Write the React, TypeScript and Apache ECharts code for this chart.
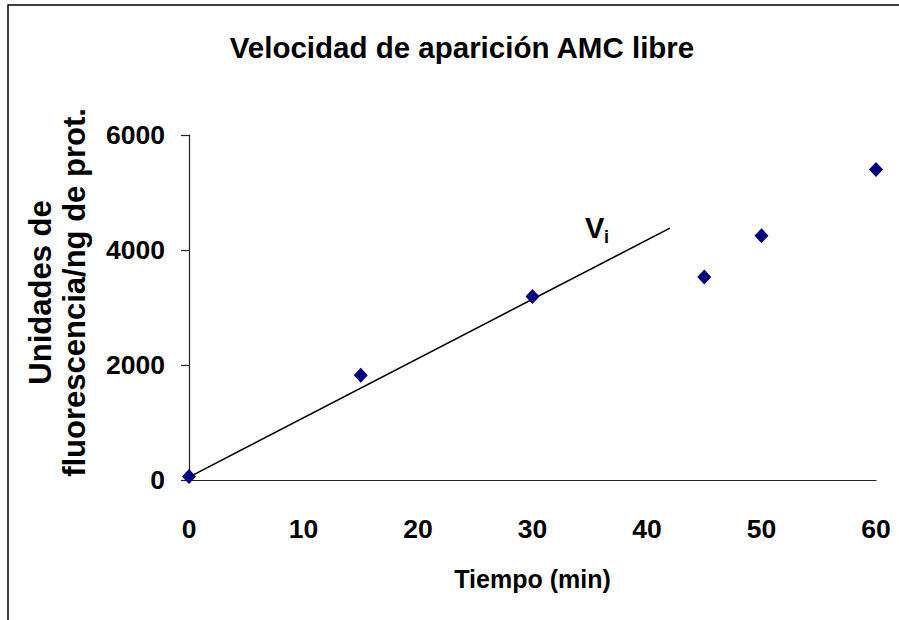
import React, { useEffect, useRef } from "react";
import * as echarts from "echarts";

const tiempo = [0, 15, 30, 45, 50, 60];
const fluorescencia = [60, 1820, 3190, 3530, 4250, 5400];
const lineaVi = [
  [0, 50],
  [42, 4380],
];
const yTicks = [0, 2000, 4000, 6000];
const xTicks = [0, 10, 20, 30, 40, 50, 60];

const FONT = "Liberation Sans, Arial, sans-serif";

export default function App() {
  const ref = useRef<HTMLDivElement>(null);
  useEffect(() => {
    if (!ref.current) return;
    const chart = echarts.init(ref.current, null, { renderer: "svg" });
    chart.setOption({
      animation: false,
      backgroundColor: "#ffffff",
      title: {
        text: "Velocidad de aparición AMC libre",
        left: 457,
        textAlign: "center",
        top: 27,
        textStyle: { fontFamily: FONT, fontWeight: "bold", fontSize: 29.5, color: "#000" },
      },
      grid: { left: 189, right: 23, top: 135, bottom: 140 },
      xAxis: {
        type: "value",
        min: xTicks[0],
        max: xTicks[xTicks.length - 1],
        interval: 10,
        name: "Tiempo (min)",
        nameLocation: "middle",
        nameGap: 86,
        nameTextStyle: { fontFamily: FONT, fontWeight: "bold", fontSize: 25, color: "#000" },
        axisLine: { show: true, lineStyle: { color: "#222", width: 1.2 } },
        axisTick: { show: false },
        splitLine: { show: false },
        axisLabel: {
          fontFamily: FONT,
          fontWeight: "bold",
          fontSize: 26.5,
          color: "#000",
          margin: 35,
          formatter: (v: number) => String(v),
        },
      },
      yAxis: {
        type: "value",
        min: yTicks[0],
        max: yTicks[yTicks.length - 1],
        interval: 2000,
        name: "Unidades de\nfluorescencia/ng de prot.",
        nameLocation: "middle",
        nameGap: 98,
        nameRotate: 90,
        nameTextStyle: {
          fontFamily: FONT,
          fontWeight: "bold",
          fontSize: 31,
          lineHeight: 34,
          color: "#000",
          padding: [0, 0, 0, 30],
        },
        axisLine: { show: true, lineStyle: { color: "#222", width: 1.2 } },
        axisTick: { show: true, inside: false, length: 8, lineStyle: { color: "#222", width: 1.2 } },
        splitLine: { show: false },
        axisLabel: {
          fontFamily: FONT,
          fontWeight: "bold",
          fontSize: 26.5,
          color: "#000",
          margin: 24,
          formatter: (v: number) => String(v),
        },
      },
      graphic: [
        {
          type: "rect",
          shape: { x: 8, y: 5, width: 1000, height: 800 },
          style: { fill: "none", stroke: "#000", lineWidth: 1.5 },
          silent: true,
        },
        {
          type: "text",
          x: 585,
          y: 213,
          style: { text: "V", fontFamily: FONT, fontWeight: "bold", fontSize: 29, fill: "#000" },
        },
        {
          type: "text",
          x: 604,
          y: 228,
          style: { text: "i", fontFamily: FONT, fontWeight: "bold", fontSize: 18, fill: "#000" },
        },
      ],
      series: [
        {
          type: "line",
          data: lineaVi,
          showSymbol: false,
          symbol: "none",
          lineStyle: { color: "#000", width: 1.6 },
          z: 2,
        },
        {
          type: "scatter",
          data: tiempo.map((t, i) => [t, fluorescencia[i]]),
          symbol: "diamond",
          symbolSize: [14, 15],
          itemStyle: { color: "#000080", opacity: 1 },
          z: 3,
        },
      ],
    });
    return () => chart.dispose();
  }, []);
  return (
    <div
      ref={ref}
      style={{ position: "fixed", left: 0, top: 0, width: 899, height: 620 }}
    />
  );
}
